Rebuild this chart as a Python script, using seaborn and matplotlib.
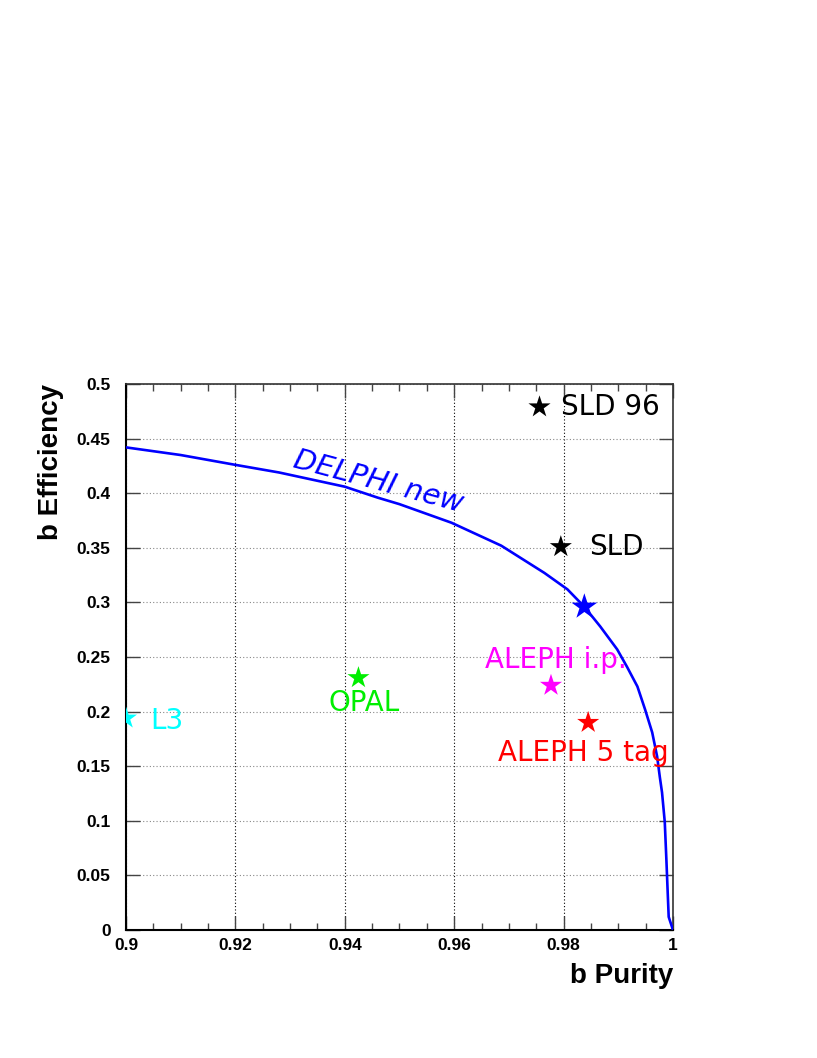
import pandas as pd
import seaborn as sns
import matplotlib.pyplot as plt
from matplotlib.ticker import MultipleLocator

# DELPHI new efficiency vs purity curve
curve_purity = [0.900, 0.910, 0.920, 0.928, 0.940, 0.946, 0.950, 0.9595, 0.9686,
                0.9765, 0.9807, 0.9838, 0.9867, 0.9898, 0.9916, 0.9935, 0.9949,
                0.9962, 0.9971, 0.9976, 0.9980, 0.9985, 0.9988, 0.99904,
                0.99922, 1.000]
curve_eff = [0.442, 0.435, 0.426, 0.419, 0.406, 0.396, 0.390, 0.373, 0.352,
             0.327, 0.312, 0.296, 0.278, 0.257, 0.241, 0.223, 0.202,
             0.181, 0.159, 0.140, 0.126, 0.099, 0.064, 0.034,
             0.012, 0.000]

# Experiment working points
experiments = ["SLD 96", "SLD", "DELPHI", "ALEPH i.p.", "ALEPH 5 tag", "OPAL", "L3"]
exp_purity = [0.9756, 0.9795, 0.9838, 0.9777, 0.9845, 0.9425, 0.900]
exp_eff = [0.479, 0.351, 0.296, 0.224, 0.190, 0.231, 0.194]
exp_colors = ["black", "black", "blue", "magenta", "red", "#00ee00", "cyan"]
exp_sizes = [280, 280, 380, 280, 280, 280, 280]

# Text labels (x, y position for each label)
label_text = ["SLD 96", "SLD", "ALEPH i.p.", "ALEPH 5 tag", "OPAL", "L3"]
label_x = [0.9795, 0.9847, 0.9656, 0.9680, 0.9371, 0.9044]
label_y = [0.479, 0.351, 0.2477, 0.1624, 0.208, 0.1917]
label_colors = ["black", "black", "magenta", "red", "#00ee00", "cyan"]

curve_df = pd.DataFrame({"purity": curve_purity, "eff": curve_eff})
exp_df = pd.DataFrame({"exp": experiments, "purity": exp_purity, "eff": exp_eff})

sns.set_style("ticks")
plt.rcParams["font.family"] = ["Liberation Sans", "DejaVu Sans"]
plt.rcParams["text.color"] = "black"
plt.rcParams["axes.labelcolor"] = "black"
plt.rcParams["xtick.labelcolor"] = "black"
plt.rcParams["ytick.labelcolor"] = "black"

fig = plt.figure(figsize=(8.17, 10.58), dpi=100)
ax = fig.add_axes([0.1542, 0.121, 0.6695, 0.516])

sns.lineplot(data=curve_df, x="purity", y="eff", sort=False, estimator=None,
             color="blue", linewidth=1.9, ax=ax, zorder=3)

for name, s in zip(experiments, exp_sizes):
    sub = exp_df[exp_df["exp"] == name]
    sns.scatterplot(data=sub, x="purity", y="eff", marker="*", s=s,
                    color=exp_colors[experiments.index(name)], edgecolor="none",
                    ax=ax, zorder=4, legend=False)

for t, x, y, c in zip(label_text, label_x, label_y, label_colors):
    ax.text(x, y, t, color=c, fontsize=20, family="DejaVu Sans",
            ha="left", va="center", zorder=5)

ax.text(0.9304, 0.4239, "DELPHI new", color="blue", fontsize=21,
        family="DejaVu Sans", style="italic", rotation=-15,
        rotation_mode="anchor", ha="left", va="baseline", zorder=5)

ax.set_xlim(0.9, 1.0)
ax.set_ylim(0, 0.5)
ax.xaxis.set_minor_locator(MultipleLocator(0.005))
ax.set_xticks([0.9, 0.92, 0.94, 0.96, 0.98, 1.0])
ax.set_xticklabels(["0.9", "0.92", "0.94", "0.96", "0.98", "1"])
ax.set_yticks([0, 0.05, 0.1, 0.15, 0.2, 0.25, 0.3, 0.35, 0.4, 0.45, 0.5])
ax.set_yticklabels(["0", "0.05", "0.1", "0.15", "0.2", "0.25", "0.3",
                    "0.35", "0.4", "0.45", "0.5"])

ax.tick_params(axis="both", which="both", direction="in", top=True, right=True)
ax.tick_params(axis="both", which="major", length=10, width=1, color="#444444")
ax.tick_params(axis="x", which="minor", length=5, width=1, color="#444444")
ax.tick_params(axis="x", which="major", pad=6)
ax.tick_params(axis="y", which="major", pad=11)
for lab in ax.get_xticklabels() + ax.get_yticklabels():
    lab.set_fontweight("bold")
    lab.set_fontsize(12.5)

ax.xaxis.grid(True, color="black", linestyle=(0, (1, 2)), linewidth=0.8)
ax.yaxis.grid(True, color="#888888", linestyle=(0, (1, 2)), linewidth=0.8)

for side in ["left", "bottom"]:
    ax.spines[side].set_linewidth(1.5)
    ax.spines[side].set_color("black")
for side in ["top", "right"]:
    ax.spines[side].set_linewidth(1.2)
    ax.spines[side].set_color("#333333")

ax.set_xlabel("b Purity", fontsize=20, fontweight="bold", loc="right", labelpad=7)
ax.set_ylabel("b Efficiency", fontsize=20, fontweight="bold", loc="top", labelpad=9)

plt.savefig("out.png", dpi=100)
